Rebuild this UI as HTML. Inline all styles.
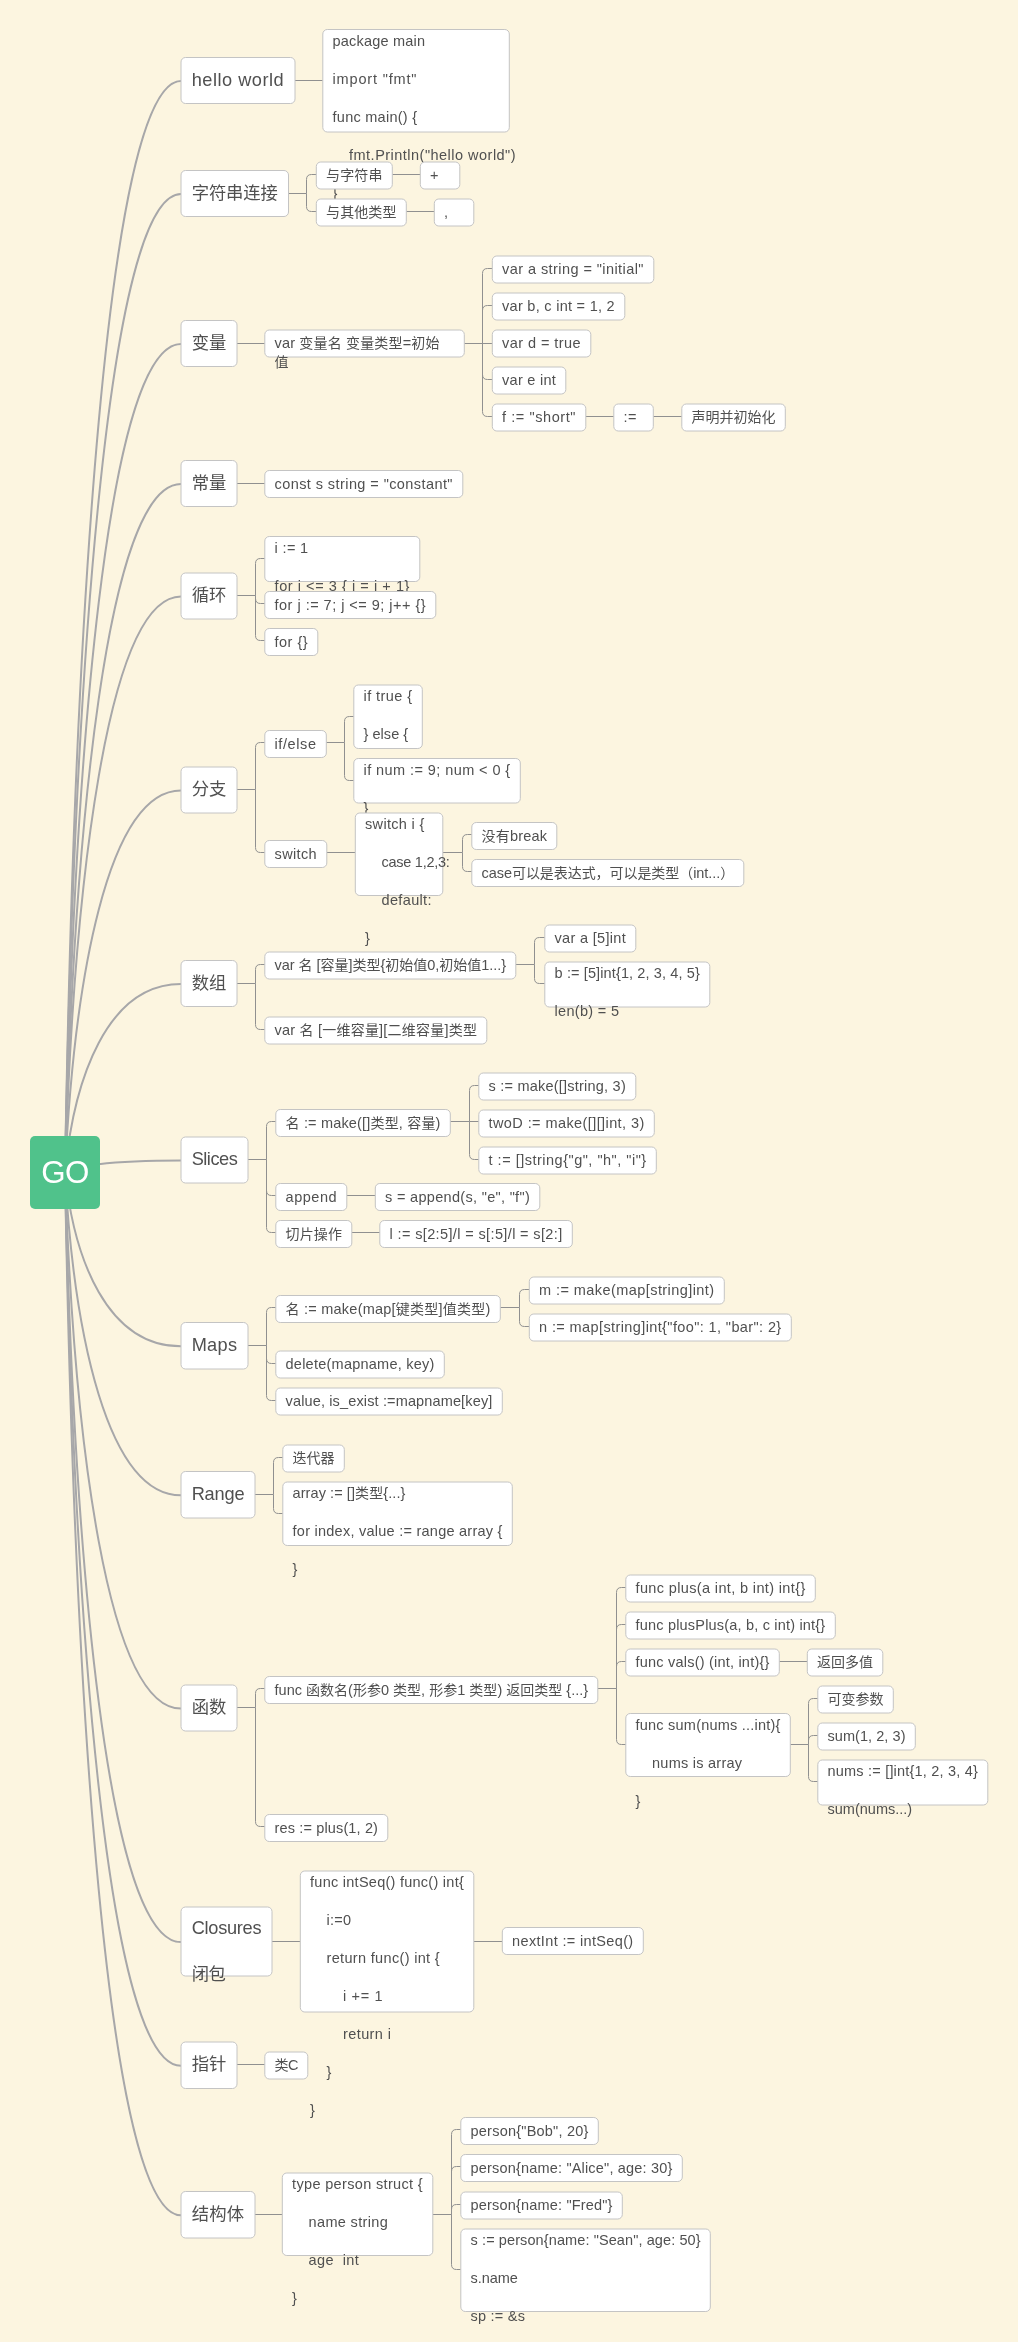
<!DOCTYPE html>
<html lang="zh-CN"><head><meta charset="utf-8"><title>GO</title>
<style>
html,body{margin:0;padding:0;background:#fcf5e0;}
body{width:1018px;height:2342px;overflow:hidden;}
svg{display:block;will-change:transform;font-family:'Liberation Sans','Noto Sans CJK SC',sans-serif;font-kerning:none;}
.ln path{fill:none;stroke:#909090;stroke-width:1;}
.mn path{fill:none;stroke:#a7a7a9;stroke-width:2;}
.nd rect{fill:#fff;stroke:#c4c4c4;stroke-width:1;}
.nd text{fill:#505050;}
.a{font-size:18.2px;}
.b{font-size:14.5px;}
.a .c{font-size:17.33px;}
.b .c{font-size:14px;}
</style></head><body>
<svg width="1018" height="2342" viewBox="0 0 1018 2342">
<rect x="0" y="0" width="1018" height="2342" fill="#fcf5e0"/>
<g class="mn">
<path d="M65 1172.5C73.93 626.8 107.22 81.1 181 81.1"/>
<path d="M65 1172.5C73.93 683.3 107.22 194.1 181 194.1"/>
<path d="M65 1172.5C73.93 758.3 107.22 344.1 181 344.1"/>
<path d="M65 1172.5C73.93 828.3 107.22 484.1 181 484.1"/>
<path d="M65 1172.5C73.93 884.55 107.22 596.6 181 596.6"/>
<path d="M65 1172.5C73.93 981.55 107.22 790.6 181 790.6"/>
<path d="M65 1172.5C73.93 1078.3 107.22 984.1 181 984.1"/>
<path d="M65 1172.5C73.93 1166.55 107.22 1160.6 181 1160.6"/>
<path d="M65 1172.5C73.93 1259.42 107.22 1346.35 181 1346.35"/>
<path d="M65 1172.5C73.93 1333.92 107.22 1495.35 181 1495.35"/>
<path d="M65 1172.5C73.93 1440.55 107.22 1708.6 181 1708.6"/>
<path d="M65 1172.5C73.93 1557.3 107.22 1942.1 181 1942.1"/>
<path d="M65 1172.5C73.93 1619.17 107.22 2065.85 181 2065.85"/>
<path d="M65 1172.5C73.93 1693.92 107.22 2215.35 181 2215.35"/>
</g>
<g class="ln">
<path d="M295 80.5L322.8 80.5"/>
<path d="M288.5 193.5L306.5 193.5M306.5 193.5L306.5 179.5Q306.5 174.5 311.5 174.5L316.3 174.5M306.5 193.5L306.5 206.5Q306.5 211.5 311.5 211.5L316.3 211.5"/>
<path d="M392.3 174.5L420.3 174.5"/>
<path d="M406.3 211.5L434.3 211.5"/>
<path d="M237 343.5L264.8 343.5"/>
<path d="M464.3 343.5L482.5 343.5M482.5 343.5L482.5 273.5Q482.5 268.5 487.5 268.5L492.3 268.5M482.5 343.5L482.5 310.5Q482.5 305.5 487.5 305.5L492.3 305.5M482.5 343.5L492.3 343.5M482.5 343.5L482.5 374.5Q482.5 379.5 487.5 379.5L492.3 379.5M482.5 343.5L482.5 411.5Q482.5 416.5 487.5 416.5L492.3 416.5"/>
<path d="M585.8 416.5L613.8 416.5"/>
<path d="M653.3 416.5L681.8 416.5"/>
<path d="M237 483.5L264.8 483.5"/>
<path d="M237 595.5L255.5 595.5M255.5 595.5L255.5 563.5Q255.5 558.5 260.5 558.5L264.8 558.5M255.5 595.5L255.5 598.5Q255.5 603.5 260.5 603.5L264.8 603.5M255.5 595.5L255.5 635.5Q255.5 640.5 260.5 640.5L264.8 640.5"/>
<path d="M237 789.5L255.5 789.5M255.5 789.5L255.5 747.5Q255.5 742.5 260.5 742.5L264.8 742.5M255.5 789.5L255.5 847.5Q255.5 852.5 260.5 852.5L264.8 852.5"/>
<path d="M326.3 742.5L344.5 742.5M344.5 742.5L344.5 721.5Q344.5 716.5 349.5 716.5L353.8 716.5M344.5 742.5L344.5 775.5Q344.5 780.5 349.5 780.5L353.8 780.5"/>
<path d="M326.8 852.5L355.3 852.5"/>
<path d="M442.8 852.5L462.5 852.5M462.5 852.5L462.5 839.5Q462.5 834.5 467.5 834.5L471.8 834.5M462.5 852.5L462.5 866.5Q462.5 871.5 467.5 871.5L471.8 871.5"/>
<path d="M237 983.5L255.5 983.5M255.5 983.5L255.5 969.5Q255.5 964.5 260.5 964.5L264.8 964.5M255.5 983.5L255.5 1024.5Q255.5 1029.5 260.5 1029.5L264.8 1029.5"/>
<path d="M515.8 964.5L534.5 964.5M534.5 964.5L534.5 942.5Q534.5 937.5 539.5 937.5L544.8 937.5M534.5 964.5L534.5 978.5Q534.5 983.5 539.5 983.5L544.8 983.5"/>
<path d="M248 1159.5L266.5 1159.5M266.5 1159.5L266.5 1126.5Q266.5 1121.5 271.5 1121.5L275.8 1121.5M266.5 1159.5L266.5 1190.5Q266.5 1195.5 271.5 1195.5L275.8 1195.5M266.5 1159.5L266.5 1227.5Q266.5 1232.5 271.5 1232.5L275.8 1232.5"/>
<path d="M450.3 1121.5L469.5 1121.5M469.5 1121.5L469.5 1090.5Q469.5 1085.5 474.5 1085.5L478.8 1085.5M469.5 1121.5L478.8 1121.5M469.5 1121.5L469.5 1154.5Q469.5 1159.5 474.5 1159.5L478.8 1159.5"/>
<path d="M346.8 1195.5L375.3 1195.5"/>
<path d="M351.8 1232.5L379.8 1232.5"/>
<path d="M248 1345.5L266.5 1345.5M266.5 1345.5L266.5 1312.5Q266.5 1307.5 271.5 1307.5L275.8 1307.5M266.5 1345.5L266.5 1358.5Q266.5 1363.5 271.5 1363.5L275.8 1363.5M266.5 1345.5L266.5 1395.5Q266.5 1400.5 271.5 1400.5L275.8 1400.5"/>
<path d="M500.3 1307.5L519.5 1307.5M519.5 1307.5L519.5 1294.5Q519.5 1289.5 524.5 1289.5L529.3 1289.5M519.5 1307.5L519.5 1321.5Q519.5 1326.5 524.5 1326.5L529.3 1326.5"/>
<path d="M255 1494.5L273.5 1494.5M273.5 1494.5L273.5 1462.5Q273.5 1457.5 278.5 1457.5L282.8 1457.5M273.5 1494.5L273.5 1508.5Q273.5 1513.5 278.5 1513.5L282.8 1513.5"/>
<path d="M237 1707.5L255.5 1707.5M255.5 1707.5L255.5 1693.5Q255.5 1688.5 260.5 1688.5L264.8 1688.5M255.5 1707.5L255.5 1821.5Q255.5 1826.5 260.5 1826.5L264.8 1826.5"/>
<path d="M597.8 1688.5L616.5 1688.5M616.5 1688.5L616.5 1592.5Q616.5 1587.5 621.5 1587.5L625.8 1587.5M616.5 1688.5L616.5 1629.5Q616.5 1624.5 621.5 1624.5L625.8 1624.5M616.5 1688.5L616.5 1666.5Q616.5 1661.5 621.5 1661.5L625.8 1661.5M616.5 1688.5L616.5 1739.5Q616.5 1744.5 621.5 1744.5L625.8 1744.5"/>
<path d="M779.3 1661.5L807.3 1661.5"/>
<path d="M790.3 1744.5L808.5 1744.5M808.5 1744.5L808.5 1703.5Q808.5 1698.5 813.5 1698.5L817.8 1698.5M808.5 1744.5L808.5 1740.5Q808.5 1735.5 813.5 1735.5L817.8 1735.5M808.5 1744.5L808.5 1776.5Q808.5 1781.5 813.5 1781.5L817.8 1781.5"/>
<path d="M272 1941.5L300.3 1941.5"/>
<path d="M473.8 1941.5L502.3 1941.5"/>
<path d="M237 2064.5L264.8 2064.5"/>
<path d="M255 2214.5L282.3 2214.5"/>
<path d="M432.8 2214.5L451.5 2214.5M451.5 2214.5L451.5 2134.5Q451.5 2129.5 456.5 2129.5L460.8 2129.5M451.5 2214.5L451.5 2171.5Q451.5 2166.5 456.5 2166.5L460.8 2166.5M451.5 2214.5L451.5 2209.5Q451.5 2204.5 456.5 2204.5L460.8 2204.5M451.5 2214.5L451.5 2264.5Q451.5 2269.5 456.5 2269.5L460.8 2269.5"/>
</g>
<g class="nd">
<g><rect x="181" y="57.5" width="114" height="46" rx="4.5"/><text class="a" x="191.67" y="85.5" letter-spacing="0.51">hello world</text></g>
<g><rect x="322.8" y="29.5" width="186.5" height="102.5" rx="4.5"/><text class="b" x="332.55" y="45.9" letter-spacing="0.2">package main</text><text class="b" x="332.55" y="83.9" letter-spacing="0.83">import "fmt"</text><text class="b" x="332.55" y="121.9" letter-spacing="0.26">func main() {</text><text class="b" x="349.05" y="159.9" letter-spacing="0.48">fmt.Println("hello world")</text><text class="b" x="332.55" y="197.9" letter-spacing="-0.15">}</text></g>
<g><rect x="181" y="170.5" width="107.5" height="46" rx="4.5"/><text class="a" x="191.67" y="198.9" letter-spacing="-0.1"><tspan class="c">字符串连接</tspan></text></g>
<g><rect x="316.3" y="162" width="76" height="27" rx="4.5"/><text class="b" x="326.05" y="180.3" letter-spacing="0.12"><tspan class="c">与字符串</tspan></text></g>
<g><rect x="420.3" y="162" width="39.5" height="27" rx="4.5"/><text class="b" x="430.05" y="180.3" letter-spacing="1.35">+</text></g>
<g><rect x="316.3" y="199" width="90" height="27" rx="4.5"/><text class="b" x="326.05" y="217.3" letter-spacing="0.1"><tspan class="c">与其他类型</tspan></text></g>
<g><rect x="434.3" y="199" width="39.5" height="27" rx="4.5"/><text class="b" x="444.05" y="217.3" letter-spacing="-0.64">,</text></g>
<g><rect x="181" y="320.5" width="56" height="46" rx="4.5"/><text class="a" x="191.67" y="348.9"><tspan class="c">变量</tspan></text></g>
<g><rect x="264.8" y="330" width="199.5" height="27" rx="4.5"/><text class="b" x="274.55" y="348.3" letter-spacing="0.16">var <tspan class="c">变量名</tspan> <tspan class="c">变量类型</tspan>=<tspan class="c">初始</tspan></text><text class="b" x="274.55" y="367.3"><tspan class="c">值</tspan></text></g>
<g><rect x="492.3" y="256" width="161.5" height="27" rx="4.5"/><text class="b" x="502.05" y="274.3" letter-spacing="0.43">var a string = "initial"</text></g>
<g><rect x="492.3" y="293" width="132.5" height="27" rx="4.5"/><text class="b" x="502.05" y="311.3" letter-spacing="0.28">var b, c int = 1, 2</text></g>
<g><rect x="492.3" y="330" width="98.5" height="27" rx="4.5"/><text class="b" x="502.05" y="348.3" letter-spacing="0.44">var d = true</text></g>
<g><rect x="492.3" y="367" width="73.5" height="27" rx="4.5"/><text class="b" x="502.05" y="385.3" letter-spacing="0.27">var e int</text></g>
<g><rect x="492.3" y="404" width="93.5" height="27" rx="4.5"/><text class="b" x="502.05" y="422.3" letter-spacing="0.57">f := "short"</text></g>
<g><rect x="613.8" y="404" width="39.5" height="27" rx="4.5"/><text class="b" x="623.55" y="422.3" letter-spacing="0.36">:=</text></g>
<g><rect x="681.8" y="404" width="103.5" height="27" rx="4.5"/><text class="b" x="691.55" y="422.3"><tspan class="c">声明并初始化</tspan></text></g>
<g><rect x="181" y="460.5" width="56" height="46" rx="4.5"/><text class="a" x="191.67" y="488.9"><tspan class="c">常量</tspan></text></g>
<g><rect x="264.8" y="470.5" width="198" height="27" rx="4.5"/><text class="b" x="274.55" y="488.8" letter-spacing="0.42">const s string = "constant"</text></g>
<g><rect x="181" y="573" width="56" height="46" rx="4.5"/><text class="a" x="191.67" y="601.4"><tspan class="c">循环</tspan></text></g>
<g><rect x="264.8" y="536.5" width="155" height="45" rx="4.5"/><text class="b" x="274.55" y="552.9" letter-spacing="0.35">i := 1</text><text class="b" x="274.55" y="590.9" letter-spacing="0.56">for i &lt;= 3 { i = i + 1}</text></g>
<g><rect x="264.8" y="591.5" width="171" height="27" rx="4.5"/><text class="b" x="274.55" y="609.8" letter-spacing="0.48">for j := 7; j &lt;= 9; j++ {}</text></g>
<g><rect x="264.8" y="628.5" width="53" height="27" rx="4.5"/><text class="b" x="274.55" y="646.8" letter-spacing="0.48">for {}</text></g>
<g><rect x="181" y="767" width="56" height="46" rx="4.5"/><text class="a" x="191.67" y="795.4"><tspan class="c">分支</tspan></text></g>
<g><rect x="264.8" y="730.5" width="61.5" height="27" rx="4.5"/><text class="b" x="274.55" y="748.8" letter-spacing="0.59">if/else</text></g>
<g><rect x="353.8" y="685" width="68.5" height="63.5" rx="4.5"/><text class="b" x="363.55" y="701.4" letter-spacing="0.43">if true {</text><text class="b" x="363.55" y="739.4" letter-spacing="0.04">} else {</text><text class="b" x="363.55" y="777.4" letter-spacing="-0.16">}</text></g>
<g><rect x="353.8" y="758.5" width="166.5" height="44.5" rx="4.5"/><text class="b" x="363.55" y="774.9" letter-spacing="0.42">if num := 9; num &lt; 0 {</text><text class="b" x="363.55" y="812.9" letter-spacing="-0.14">}</text></g>
<g><rect x="264.8" y="840.5" width="62" height="27" rx="4.5"/><text class="b" x="274.55" y="858.8" letter-spacing="0.37">switch</text></g>
<g><rect x="355.3" y="813" width="87.5" height="82.5" rx="4.5"/><text class="b" x="365.05" y="829.4" letter-spacing="0.32">switch i {</text><text class="b" x="381.55" y="867.4" letter-spacing="-0.27">case 1,2,3:</text><text class="b" x="381.55" y="905.4" letter-spacing="0.34">default:</text><text class="b" x="365.05" y="943.4" letter-spacing="-0.14">}</text></g>
<g><rect x="471.8" y="822.5" width="85" height="27" rx="4.5"/><text class="b" x="481.55" y="840.8" letter-spacing="0.18"><tspan class="c">没有</tspan>break</text></g>
<g><rect x="471.8" y="859.5" width="272" height="27" rx="4.5"/><text class="b" x="481.55" y="877.8" letter-spacing="-0.06">case<tspan class="c">可以是表达式，可以是类型（</tspan>int...<tspan class="c">）</tspan></text></g>
<g><rect x="181" y="960.5" width="56" height="46" rx="4.5"/><text class="a" x="191.67" y="988.9"><tspan class="c">数组</tspan></text></g>
<g><rect x="264.8" y="952" width="251" height="27" rx="4.5"/><text class="b" x="274.55" y="970.3" letter-spacing="-0.03">var <tspan class="c">名</tspan> [<tspan class="c">容量</tspan>]<tspan class="c">类型</tspan>{<tspan class="c">初始值</tspan>0,<tspan class="c">初始值</tspan>1...}</text></g>
<g><rect x="544.8" y="925" width="91" height="27" rx="4.5"/><text class="b" x="554.55" y="943.3" letter-spacing="0.32">var a [5]int</text></g>
<g><rect x="544.8" y="962" width="165" height="45" rx="4.5"/><text class="b" x="554.55" y="978.4" letter-spacing="0.12">b := [5]int{1, 2, 3, 4, 5}</text><text class="b" x="554.55" y="1016.4" letter-spacing="0.31">len(b) = 5</text></g>
<g><rect x="264.8" y="1017" width="222" height="27" rx="4.5"/><text class="b" x="274.55" y="1035.3" letter-spacing="0.21">var <tspan class="c">名</tspan> [<tspan class="c">一维容量</tspan>][<tspan class="c">二维容量</tspan>]<tspan class="c">类型</tspan></text></g>
<g><rect x="181" y="1137" width="67" height="46" rx="4.5"/><text class="a" x="191.67" y="1165" letter-spacing="-0.48">Slices</text></g>
<g><rect x="275.8" y="1109.5" width="174.5" height="27" rx="4.5"/><text class="b" x="285.55" y="1127.8" letter-spacing="0.17"><tspan class="c">名</tspan> := make([]<tspan class="c">类型</tspan>, <tspan class="c">容量</tspan>)</text></g>
<g><rect x="478.8" y="1073" width="157" height="27" rx="4.5"/><text class="b" x="488.55" y="1091.3" letter-spacing="0.22">s := make([]string, 3)</text></g>
<g><rect x="478.8" y="1110" width="175.5" height="27" rx="4.5"/><text class="b" x="488.55" y="1128.3" letter-spacing="0.41">twoD := make([][]int, 3)</text></g>
<g><rect x="478.8" y="1147" width="177.5" height="27" rx="4.5"/><text class="b" x="488.55" y="1165.3" letter-spacing="0.5">t := []string{"g", "h", "i"}</text></g>
<g><rect x="275.8" y="1183.5" width="71" height="27" rx="4.5"/><text class="b" x="285.55" y="1201.8" letter-spacing="0.52">append</text></g>
<g><rect x="375.3" y="1183.5" width="164.5" height="27" rx="4.5"/><text class="b" x="385.05" y="1201.8" letter-spacing="0.31">s = append(s, "e", "f")</text></g>
<g><rect x="275.8" y="1220.5" width="76" height="27" rx="4.5"/><text class="b" x="285.55" y="1238.8" letter-spacing="0.12"><tspan class="c">切片操作</tspan></text></g>
<g><rect x="379.8" y="1220.5" width="192.5" height="27" rx="4.5"/><text class="b" x="389.55" y="1238.8" letter-spacing="0.37">l := s[2:5]/l = s[:5]/l = s[2:]</text></g>
<g><rect x="181" y="1322.5" width="67" height="46.5" rx="4.5"/><text class="a" x="191.67" y="1350.5" letter-spacing="0.29">Maps</text></g>
<g><rect x="275.8" y="1295.5" width="224.5" height="27" rx="4.5"/><text class="b" x="285.55" y="1313.8" letter-spacing="0.23"><tspan class="c">名</tspan> := make(map[<tspan class="c">键类型</tspan>]<tspan class="c">值类型</tspan>)</text></g>
<g><rect x="529.3" y="1277" width="195" height="27" rx="4.5"/><text class="b" x="539.05" y="1295.3" letter-spacing="0.43">m := make(map[string]int)</text></g>
<g><rect x="529.3" y="1314" width="262" height="27" rx="4.5"/><text class="b" x="539.05" y="1332.3" letter-spacing="0.39">n := map[string]int{"foo": 1, "bar": 2}</text></g>
<g><rect x="275.8" y="1351" width="168.5" height="27" rx="4.5"/><text class="b" x="285.55" y="1369.3" letter-spacing="0.24">delete(mapname, key)</text></g>
<g><rect x="275.8" y="1388" width="226.5" height="27" rx="4.5"/><text class="b" x="285.55" y="1406.3" letter-spacing="0.14">value, is_exist :=mapname[key]</text></g>
<g><rect x="181" y="1471.5" width="74" height="46.5" rx="4.5"/><text class="a" x="191.67" y="1499.5" letter-spacing="-0.19">Range</text></g>
<g><rect x="282.8" y="1445" width="61.5" height="27" rx="4.5"/><text class="b" x="292.55" y="1463.3"><tspan class="c">迭代器</tspan></text></g>
<g><rect x="282.8" y="1482" width="229.5" height="63.5" rx="4.5"/><text class="b" x="292.55" y="1498.4" letter-spacing="0.08">array := []<tspan class="c">类型</tspan>{...}</text><text class="b" x="292.55" y="1536.4" letter-spacing="0.25">for index, value := range array {</text><text class="b" x="292.55" y="1574.4" letter-spacing="-0.14">}</text></g>
<g><rect x="181" y="1685" width="56" height="46" rx="4.5"/><text class="a" x="191.67" y="1713.4"><tspan class="c">函数</tspan></text></g>
<g><rect x="264.8" y="1676.5" width="333" height="27" rx="4.5"/><text class="b" x="274.55" y="1694.8" letter-spacing="0.01">func <tspan class="c">函数名</tspan>(<tspan class="c">形参</tspan>0 <tspan class="c">类型</tspan>, <tspan class="c">形参</tspan>1 <tspan class="c">类型</tspan>) <tspan class="c">返回类型</tspan> {...}</text></g>
<g><rect x="625.8" y="1575" width="189.5" height="27" rx="4.5"/><text class="b" x="635.55" y="1593.3" letter-spacing="0.36">func plus(a int, b int) int{}</text></g>
<g><rect x="625.8" y="1612" width="209.5" height="27" rx="4.5"/><text class="b" x="635.55" y="1630.3" letter-spacing="0.19">func plusPlus(a, b, c int) int{}</text></g>
<g><rect x="625.8" y="1649" width="153.5" height="27" rx="4.5"/><text class="b" x="635.55" y="1667.3" letter-spacing="0.21">func vals() (int, int){}</text></g>
<g><rect x="807.3" y="1649" width="75.5" height="27" rx="4.5"/><text class="b" x="817.05" y="1667.3"><tspan class="c">返回多值</tspan></text></g>
<g><rect x="625.8" y="1713.5" width="164.5" height="63" rx="4.5"/><text class="b" x="635.55" y="1729.9" letter-spacing="0.22">func sum(nums ...int){</text><text class="b" x="652.05" y="1767.9" letter-spacing="0.25">nums is array</text><text class="b" x="635.55" y="1805.9" letter-spacing="-0.11">}</text></g>
<g><rect x="817.8" y="1686" width="75.5" height="27" rx="4.5"/><text class="b" x="827.55" y="1704.3"><tspan class="c">可变参数</tspan></text></g>
<g><rect x="817.8" y="1723" width="97.5" height="27" rx="4.5"/><text class="b" x="827.55" y="1741.3" letter-spacing="0.05">sum(1, 2, 3)</text></g>
<g><rect x="817.8" y="1760" width="170" height="45" rx="4.5"/><text class="b" x="827.55" y="1776.4" letter-spacing="0.2">nums := []int{1, 2, 3, 4}</text><text class="b" x="827.55" y="1814.4">sum(nums...)</text></g>
<g><rect x="264.8" y="1814.5" width="123" height="27" rx="4.5"/><text class="b" x="274.55" y="1832.8" letter-spacing="0.14">res := plus(1, 2)</text></g>
<g><rect x="181" y="1907" width="91" height="69" rx="4.5"/><text class="a" x="191.67" y="1933.5" letter-spacing="-0.27">Closures</text><text class="a" x="191.67" y="1979.9" letter-spacing="-0.36"><tspan class="c">闭包</tspan></text></g>
<g><rect x="300.3" y="1871" width="173.5" height="141" rx="4.5"/><text class="b" x="310.05" y="1887.4" letter-spacing="0.26">func intSeq() func() int{</text><text class="b" x="326.55" y="1925.4" letter-spacing="0.22">i:=0</text><text class="b" x="326.55" y="1963.4" letter-spacing="0.33">return func() int {</text><text class="b" x="343.05" y="2001.4" letter-spacing="0.64">i += 1</text><text class="b" x="343.05" y="2039.4" letter-spacing="0.39">return i</text><text class="b" x="326.55" y="2077.4" letter-spacing="-0.16">}</text><text class="b" x="310.05" y="2115.4" letter-spacing="-0.16">}</text></g>
<g><rect x="502.3" y="1927.5" width="141" height="27" rx="4.5"/><text class="b" x="512.05" y="1945.8" letter-spacing="0.35">nextInt := intSeq()</text></g>
<g><rect x="181" y="2042" width="56" height="46.5" rx="4.5"/><text class="a" x="191.67" y="2070.4"><tspan class="c">指针</tspan></text></g>
<g><rect x="264.8" y="2052" width="43" height="27" rx="4.5"/><text class="b" x="274.55" y="2070.3" letter-spacing="-0.49"><tspan class="c">类</tspan>C</text></g>
<g><rect x="181" y="2191.5" width="74" height="46.5" rx="4.5"/><text class="a" x="191.67" y="2219.9" letter-spacing="0.22"><tspan class="c">结构体</tspan></text></g>
<g><rect x="282.3" y="2173" width="150.5" height="82.5" rx="4.5"/><text class="b" x="292.05" y="2189.4" letter-spacing="0.34">type person struct {</text><text class="b" x="308.55" y="2227.4" letter-spacing="0.35">name string</text><text class="b" x="308.55" y="2265.4" letter-spacing="0.39" xml:space="preserve">age  int</text><text class="b" x="292.05" y="2303.4" letter-spacing="-0.15">}</text></g>
<g><rect x="460.8" y="2117.5" width="137.5" height="27" rx="4.5"/><text class="b" x="470.55" y="2135.8" letter-spacing="0.22">person{"Bob", 20}</text></g>
<g><rect x="460.8" y="2154.5" width="221.5" height="27" rx="4.5"/><text class="b" x="470.55" y="2172.8" letter-spacing="0.18">person{name: "Alice", age: 30}</text></g>
<g><rect x="460.8" y="2192" width="161.5" height="27" rx="4.5"/><text class="b" x="470.55" y="2210.3" letter-spacing="0.18">person{name: "Fred"}</text></g>
<g><rect x="460.8" y="2229" width="249.5" height="82.5" rx="4.5"/><text class="b" x="470.55" y="2245.4" letter-spacing="0.1">s := person{name: "Sean", age: 50}</text><text class="b" x="470.55" y="2283.4" letter-spacing="-0.06">s.name</text><text class="b" x="470.55" y="2321.4" letter-spacing="0.22">sp := &amp;s</text></g>
</g>
<g>
<rect x="30" y="1136" width="70" height="73" rx="5" fill="#50c28b"/>
<text x="65" y="1183.1" text-anchor="middle" font-size="31.3" letter-spacing="-0.6" fill="#fff">GO</text>
</g>
</svg>
</body></html>
